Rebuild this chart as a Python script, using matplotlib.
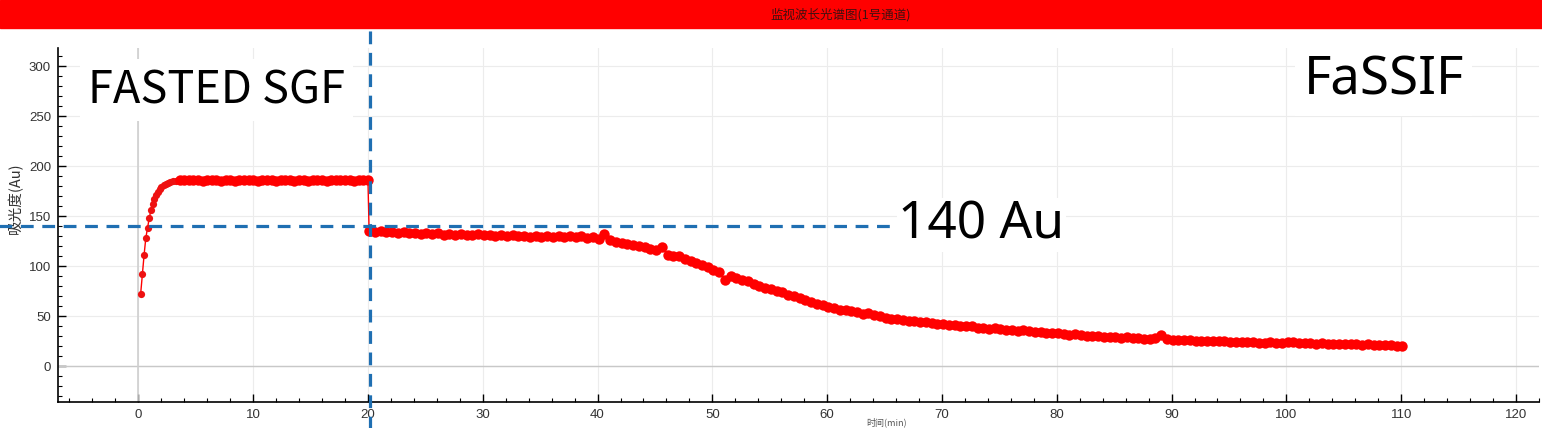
import numpy as np
import matplotlib
matplotlib.use("Agg")
import matplotlib.pyplot as plt
from matplotlib.ticker import MultipleLocator

plt.rcParams['font.family'] = ['Liberation Sans', 'Noto Sans CJK SC', 'DejaVu Sans']

# --- data ---
title_text = "监视波长光谱图(1号通道)"
y_label = "吸光度(Au)"
x_label = "时间(min)"

# fasted SGF phase: quick rise then plateau
ramp_time = [0.2, 0.35, 0.5, 0.65, 0.8, 0.95, 1.1, 1.25, 1.4, 1.55,
             1.7, 1.85, 2.0, 2.2, 2.4, 2.6, 2.8, 3.0, 3.3]
ramp_abs = [72, 92, 111, 128, 138, 148, 156, 162, 167, 171,
            174, 177, 179, 181, 182.5, 183.5, 184.5, 185, 185.5]
plateau_time = np.arange(3.6, 20.01, 0.4)
plateau_abs = [185.8, 186.1, 185.6, 186.3, 185.9, 185.4, 186.2, 185.7, 186.0, 185.5,
               186.4, 185.8, 185.3, 186.1, 185.9, 186.5, 185.6, 185.2, 186.0, 185.7,
               186.3, 185.4, 185.9, 186.2, 185.6, 185.1, 185.8, 186.4, 185.5, 186.0,
               185.7, 186.2, 185.4, 185.9, 186.1, 185.6, 186.3, 185.8, 185.5, 186.0,
               185.7, 186.1]

# FaSSIF phase, sampled every 0.5 min
fassif_time = np.arange(20.1, 110.2, 0.5)
fassif_abs = [
    135.5, 134.5, 134.8, 133.6, 133.9, 133.2, 133.8, 132.6, 133.1, 132.4,
    132.9, 131.8, 132.6, 131.5, 132.3, 131.2, 131.9, 130.6, 131.4, 132.2,
    130.8, 131.5, 130.2, 131.0, 130.1, 130.9, 129.6, 130.4, 129.3, 130.1,
    129.2, 130.3, 129.0, 129.8, 128.7, 130.4, 128.9, 129.6, 128.2, 128.8,
    127.4, 131.8, 126.3, 124.1, 122.8, 121.9, 121.2, 120.5, 118.9, 117.4,
    116.2, 119.0, 111.3, 110.4, 109.6, 107.4, 105.3, 103.2, 101.1, 98.6,
    96.4, 94.1, 86.2, 89.6, 87.8, 86.4, 84.7, 82.3, 80.2, 78.4,
    76.8, 75.1, 73.6, 71.4, 69.7, 67.8, 65.6, 63.9, 62.1, 60.8,
    59.2, 58.1, 56.4, 55.8, 54.6, 53.9, 52.2, 53.1, 51.0, 49.6,
    47.9, 47.3, 46.8, 46.2, 45.4, 44.9, 44.1, 43.6, 43.0, 42.4,
    42.0, 41.3, 40.8, 40.2, 39.6, 40.4, 38.5, 38.1, 37.4, 38.0,
    36.8, 36.4, 36.0, 35.5, 35.9, 34.6, 34.2, 33.8, 33.1, 32.7,
    33.4, 31.9, 31.5, 31.9, 30.8, 30.5, 30.2, 29.8, 29.5, 29.2,
    28.9, 28.4, 28.7, 27.9, 27.6, 27.2, 26.8, 28.2, 30.6, 27.0,
    26.4, 26.1, 25.8, 25.9, 25.4, 25.2, 24.8, 25.3, 24.6, 24.9,
    24.3, 24.1, 24.5, 23.7, 24.0, 23.5, 23.4, 23.9, 23.2, 23.0,
    23.6, 24.2, 23.3, 22.8, 23.1, 22.5, 22.9, 22.2, 22.5, 21.9,
    22.3, 21.6, 21.9, 21.2, 21.6, 20.9, 21.2, 20.6, 20.9, 20.3,
    19.9,
]

switch_time = 20.2
threshold = 140

dense_time = np.concatenate([plateau_time, fassif_time])
dense_abs = np.concatenate([plateau_abs, fassif_abs])
time_all = np.concatenate([ramp_time, dense_time])
abs_all = np.concatenate([ramp_abs, dense_abs])

fig = plt.figure(figsize=(15.42, 4.28), dpi=100)
ax = fig.add_axes([0.0376, 0.0607, 0.9604, 0.827])

# red title banner
fig.patches.append(plt.Rectangle((0, 1 - 28 / 428), 1, 28 / 428, transform=fig.transFigure,
                                 color='#ff0000', zorder=0))
fig.text(0.545, 1 - 15 / 428, title_text, ha='center', va='center', fontsize=9,
         color='#401010', family=['Noto Sans CJK SC', 'DejaVu Sans'])

ax.set_xlim(-7, 122)
ax.set_ylim(-36, 318)
ax.xaxis.set_major_locator(MultipleLocator(10))
ax.xaxis.set_minor_locator(MultipleLocator(2))
ax.yaxis.set_major_locator(MultipleLocator(50))
ax.yaxis.set_minor_locator(MultipleLocator(10))
ax.tick_params(which='major', direction='in', length=6, width=1, labelsize=9.5,
               labelcolor='#333333', pad=5)
ax.tick_params(which='minor', direction='in', length=3, width=0.8)
for s in ['top', 'right']:
    ax.spines[s].set_visible(False)
for s in ['left', 'bottom']:
    ax.spines[s].set_linewidth(1.2)
ax.grid(True, which='major', color='#ececec', linewidth=0.8)
ax.set_axisbelow(True)
ax.axhline(0, color='#c8c8c8', linewidth=1, zorder=1)
ax.axvline(0, color='#cfcfcf', linewidth=1.2, zorder=1)

ax.set_ylabel(y_label, fontsize=10.5, color='#333333',
              family=['Noto Sans CJK SC', 'DejaVu Sans'])
ax.yaxis.set_label_coords(-0.0236, 0.575)
fig.text(0.575, 0.002, x_label, ha='center', va='bottom', fontsize=6.5, color='#555555',
         family=['Noto Sans CJK SC', 'DejaVu Sans'])

ax.plot(time_all, abs_all, color='#ff0000', linewidth=1, zorder=3)
ax.plot(ramp_time, ramp_abs, linestyle='none', marker='o', markersize=5.2,
        color='#ee1111', markeredgewidth=0, zorder=3)
ax.plot(dense_time, dense_abs, linestyle='none', marker='o', markersize=7.5,
        color='#ff0000', markeredgewidth=0, zorder=3)

# phase switch and threshold guides
dash_kw = dict(color='#1f6fb2', linewidth=2.3, linestyle=(0, (4, 2.7)), clip_on=False, zorder=5)
ax.plot([switch_time, switch_time], [-65, 336], **dash_kw)
ax.plot([-12.1, 66.0], [threshold, threshold], **dash_kw)

box = dict(facecolor='white', edgecolor='none', pad=6)
ax.text(-4.4, 276, "FASTED SGF", ha='left', va='center', bbox=box, fontsize=32.5,
        fontweight='medium', color='black', family=['Noto Sans CJK SC', 'DejaVu Sans'], zorder=4)
ax.text(101.5, 285, "FaSSIF", ha='left', va='center', bbox=box, fontsize=38,
        color='black', family=['Noto Sans', 'DejaVu Sans'], zorder=4)
ax.text(66.2, 141, "140 Au", ha='left', va='center',
        bbox=dict(facecolor='white', edgecolor='none', pad=1), fontsize=37,
        color='black', family=['Noto Sans', 'DejaVu Sans'], zorder=4)

fig.savefig("out.png", dpi=100)
